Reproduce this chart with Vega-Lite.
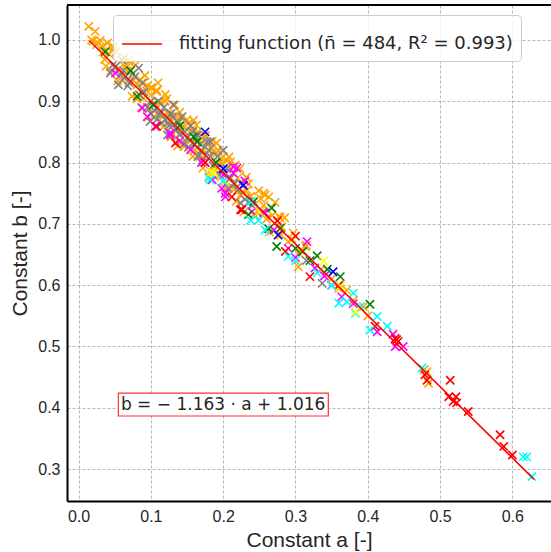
{
  "$schema": "https://vega.github.io/schema/vega-lite/v6.json",
  "width": 484,
  "height": 496,
  "autosize": {"type": "none"},
  "padding": {"left": 67, "top": 5, "right": 0, "bottom": 51},
  "background": "white",
  "view": {"stroke": null},
  "config": {
    "axis": {"grid": true, "gridColor": "#b0b0b0", "gridDash": [3, 2], "gridWidth": 0.9, "ticks": false, "domainColor": "black", "domainWidth": 2, "labelFont": "Liberation Sans", "labelFontSize": 16, "labelColor": "#262626", "titleFont": "Liberation Sans", "titleFontSize": 21, "titleFontWeight": "normal", "titleColor": "#262626", "labelPadding": 7}
  },
  "datasets": {
    "pts": [
      {"a":0.014,"b":1.022,"g":"o"},{"a":0.023,"b":1.014,"g":"o"},{"a":0.025,"b":0.992,"g":"o"},{"a":0.034,"b":0.981,"g":"o"},{"a":0.048,"b":0.989,"g":"o"},
      {"a":0.03,"b":0.999,"g":"o"},{"a":0.036,"b":0.968,"g":"o"},{"a":0.042,"b":0.977,"g":"o"},{"a":0.045,"b":0.95,"g":"o"},{"a":0.052,"b":0.981,"g":"o"},
      {"a":0.056,"b":0.953,"g":"o"},{"a":0.06,"b":0.936,"g":"o"},{"a":0.064,"b":0.957,"g":"o"},{"a":0.069,"b":0.934,"g":"o"},{"a":0.072,"b":0.962,"g":"o"},
      {"a":0.076,"b":0.934,"g":"o"},{"a":0.081,"b":0.904,"g":"o"},{"a":0.085,"b":0.935,"g":"o"},{"a":0.09,"b":0.905,"g":"o"},{"a":0.094,"b":0.917,"g":"o"},
      {"a":0.098,"b":0.888,"g":"o"},{"a":0.102,"b":0.922,"g":"o"},{"a":0.106,"b":0.895,"g":"o"},{"a":0.11,"b":0.878,"g":"o"},{"a":0.115,"b":0.897,"g":"o"},
      {"a":0.118,"b":0.877,"g":"o"},{"a":0.122,"b":0.904,"g":"o"},{"a":0.126,"b":0.875,"g":"o"},{"a":0.13,"b":0.847,"g":"o"},{"a":0.135,"b":0.877,"g":"o"},
      {"a":0.14,"b":0.847,"g":"o"},{"a":0.144,"b":0.859,"g":"o"},{"a":0.148,"b":0.83,"g":"o"},{"a":0.152,"b":0.864,"g":"o"},{"a":0.156,"b":0.837,"g":"o"},
      {"a":0.16,"b":0.82,"g":"o"},{"a":0.165,"b":0.839,"g":"o"},{"a":0.17,"b":0.816,"g":"o"},{"a":0.174,"b":0.844,"g":"o"},{"a":0.178,"b":0.815,"g":"o"},
      {"a":0.182,"b":0.786,"g":"o"},{"a":0.186,"b":0.818,"g":"o"},{"a":0.19,"b":0.789,"g":"o"},{"a":0.195,"b":0.799,"g":"o"},{"a":0.2,"b":0.769,"g":"o"},
      {"a":0.205,"b":0.803,"g":"o"},{"a":0.21,"b":0.774,"g":"o"},{"a":0.215,"b":0.756,"g":"o"},{"a":0.22,"b":0.775,"g":"o"},{"a":0.226,"b":0.751,"g":"o"},
      {"a":0.232,"b":0.776,"g":"o"},{"a":0.238,"b":0.745,"g":"o"},{"a":0.245,"b":0.713,"g":"o"},{"a":0.252,"b":0.741,"g":"o"},{"a":0.26,"b":0.708,"g":"o"},
      {"a":0.268,"b":0.714,"g":"o"},{"a":0.276,"b":0.681,"g":"o"},{"a":0.285,"b":0.71,"g":"o"},{"a":0.295,"b":0.675,"g":"o"},{"a":0.305,"b":0.651,"g":"o"},
      {"a":0.315,"b":0.665,"g":"o"},
      {"a":0.069,"b":0.967,"g":"o"},{"a":0.072,"b":0.951,"g":"o"},{"a":0.081,"b":0.927,"g":"o"},{"a":0.09,"b":0.93,"g":"o"},{"a":0.11,"b":0.93,"g":"o"},
      {"a":0.108,"b":0.916,"g":"o"},{"a":0.159,"b":0.869,"g":"o"},{"a":0.159,"b":0.853,"g":"o"},{"a":0.178,"b":0.829,"g":"o"},{"a":0.191,"b":0.832,"g":"o"},
      {"a":0.191,"b":0.815,"g":"o"},{"a":0.21,"b":0.801,"g":"o"},{"a":0.217,"b":0.796,"g":"o"},{"a":0.224,"b":0.747,"g":"o"},{"a":0.233,"b":0.755,"g":"o"},
      {"a":0.256,"b":0.75,"g":"o"},{"a":0.263,"b":0.744,"g":"o"},{"a":0.277,"b":0.712,"g":"o"},{"a":0.258,"b":0.747,"g":"o"},{"a":0.228,"b":0.75,"g":"o"},
      {"a":0.279,"b":0.71,"g":"o"},{"a":0.297,"b":0.685,"g":"o"},{"a":0.29,"b":0.671,"g":"o"},{"a":0.307,"b":0.657,"g":"o"},{"a":0.304,"b":0.63,"g":"o"},
      {"a":0.314,"b":0.663,"g":"o"},{"a":0.371,"b":0.592,"g":"o"},{"a":0.394,"b":0.565,"g":"o"},{"a":0.482,"b":0.459,"g":"o"},{"a":0.484,"b":0.44,"g":"o"},
      {"a":0.281,"b":0.695,"g":"o"},{"a":0.124,"b":0.88,"g":"o"},{"a":0.137,"b":0.87,"g":"o"},{"a":0.15,"b":0.855,"g":"o"},{"a":0.165,"b":0.85,"g":"o"},
      {"a":0.185,"b":0.835,"g":"o"},{"a":0.2,"b":0.81,"g":"o"},{"a":0.14,"b":0.882,"g":"o"},{"a":0.12,"b":0.9,"g":"o"},{"a":0.1,"b":0.91,"g":"o"},
      {"a":0.095,"b":0.925,"g":"o"},{"a":0.063,"b":0.97,"g":"o"},{"a":0.04,"b":0.995,"g":"o"},{"a":0.033,"b":0.99,"g":"o"},{"a":0.018,"b":1.0,"g":"o"},
      {"a":0.21,"b":0.79,"g":"o"},{"a":0.17,"b":0.83,"g":"o"},{"a":0.335,"b":0.625,"g":"o"},{"a":0.35,"b":0.61,"g":"o"},{"a":0.36,"b":0.595,"g":"o"},
      {"a":0.38,"b":0.575,"g":"o"},{"a":0.4,"b":0.55,"g":"o"},{"a":0.478,"b":0.462,"g":"o"},
      {"a":0.02,"b":0.998,"g":"o"},{"a":0.027,"b":0.995,"g":"o"},{"a":0.038,"b":0.957,"g":"o"},{"a":0.047,"b":0.983,"g":"o"},{"a":0.054,"b":0.933,"g":"o"},
      {"a":0.062,"b":0.972,"g":"o"},{"a":0.067,"b":0.95,"g":"o"},{"a":0.074,"b":0.908,"g":"o"},{"a":0.079,"b":0.959,"g":"o"},{"a":0.083,"b":0.911,"g":"o"},
      {"a":0.087,"b":0.89,"g":"o"},{"a":0.092,"b":0.942,"g":"o"},{"a":0.096,"b":0.874,"g":"o"},{"a":0.1,"b":0.922,"g":"o"},{"a":0.104,"b":0.875,"g":"o"},
      {"a":0.108,"b":0.918,"g":"o"},{"a":0.112,"b":0.898,"g":"o"},{"a":0.117,"b":0.858,"g":"o"},{"a":0.12,"b":0.911,"g":"o"},{"a":0.124,"b":0.864,"g":"o"},
      {"a":0.128,"b":0.842,"g":"o"},{"a":0.133,"b":0.894,"g":"o"},{"a":0.137,"b":0.827,"g":"o"},{"a":0.142,"b":0.873,"g":"o"},{"a":0.146,"b":0.826,"g":"o"},
      {"a":0.15,"b":0.87,"g":"o"},{"a":0.154,"b":0.849,"g":"o"},{"a":0.158,"b":0.81,"g":"o"},{"a":0.163,"b":0.861,"g":"o"},{"a":0.167,"b":0.814,"g":"o"},
      {"a":0.172,"b":0.791,"g":"o"},{"a":0.176,"b":0.844,"g":"o"},{"a":0.18,"b":0.777,"g":"o"},{"a":0.184,"b":0.824,"g":"o"},{"a":0.188,"b":0.777,"g":"o"},
      {"a":0.193,"b":0.82,"g":"o"},{"a":0.198,"b":0.798,"g":"o"},{"a":0.203,"b":0.758,"g":"o"},{"a":0.208,"b":0.809,"g":"o"},{"a":0.213,"b":0.76,"g":"o"},
      {"a":0.218,"b":0.737,"g":"o"},{"a":0.223,"b":0.79,"g":"o"},{"a":0.229,"b":0.72,"g":"o"},{"a":0.235,"b":0.765,"g":"o"},{"a":0.242,"b":0.715,"g":"o"},
      {"a":0.249,"b":0.754,"g":"o"},{"a":0.256,"b":0.73,"g":"o"},{"a":0.264,"b":0.687,"g":"o"},{"a":0.272,"b":0.735,"g":"o"},{"a":0.28,"b":0.682,"g":"o"},
      {"a":0.044,"b":0.946,"g":"gr"},{"a":0.058,"b":0.943,"g":"gr"},{"a":0.06,"b":0.967,"g":"gr"},{"a":0.083,"b":0.954,"g":"gr"},{"a":0.055,"b":0.927,"g":"gr"},
      {"a":0.099,"b":0.867,"g":"gr"},{"a":0.113,"b":0.88,"g":"gr"},{"a":0.131,"b":0.894,"g":"gr"},{"a":0.143,"b":0.875,"g":"gr"},{"a":0.164,"b":0.845,"g":"gr"},
      {"a":0.182,"b":0.834,"g":"gr"},{"a":0.2,"b":0.82,"g":"gr"},{"a":0.182,"b":0.81,"g":"gr"},{"a":0.224,"b":0.766,"g":"gr"},{"a":0.224,"b":0.734,"g":"gr"},
      {"a":0.337,"b":0.603,"g":"gr"},{"a":0.178,"b":0.834,"g":"gr"},{"a":0.207,"b":0.758,"g":"gr"},{"a":0.07,"b":0.93,"g":"gr"},{"a":0.075,"b":0.945,"g":"gr"},
      {"a":0.09,"b":0.915,"g":"gr"},{"a":0.1,"b":0.9,"g":"gr"},{"a":0.105,"b":0.885,"g":"gr"},{"a":0.12,"b":0.87,"g":"gr"},{"a":0.125,"b":0.86,"g":"gr"},
      {"a":0.135,"b":0.855,"g":"gr"},{"a":0.14,"b":0.845,"g":"gr"},{"a":0.15,"b":0.84,"g":"gr"},{"a":0.155,"b":0.86,"g":"gr"},{"a":0.16,"b":0.83,"g":"gr"},
      {"a":0.17,"b":0.82,"g":"gr"},{"a":0.175,"b":0.8,"g":"gr"},{"a":0.19,"b":0.8,"g":"gr"},{"a":0.195,"b":0.78,"g":"gr"},{"a":0.21,"b":0.775,"g":"gr"},
      {"a":0.215,"b":0.765,"g":"gr"},{"a":0.23,"b":0.74,"g":"gr"},{"a":0.24,"b":0.73,"g":"gr"},{"a":0.05,"b":0.955,"g":"gr"},{"a":0.065,"b":0.94,"g":"gr"},
      {"a":0.115,"b":0.865,"g":"gr"},{"a":0.13,"b":0.875,"g":"gr"},{"a":0.145,"b":0.83,"g":"gr"},{"a":0.085,"b":0.91,"g":"gr"},{"a":0.11,"b":0.9,"g":"gr"},
      {"a":0.165,"b":0.81,"g":"gr"},{"a":0.255,"b":0.72,"g":"gr"},{"a":0.315,"b":0.64,"g":"gr"},
      {"a":0.048,"b":0.96,"g":"gr"},{"a":0.068,"b":0.925,"g":"gr"},{"a":0.078,"b":0.94,"g":"gr"},{"a":0.088,"b":0.93,"g":"gr"},{"a":0.095,"b":0.89,"g":"gr"},
      {"a":0.108,"b":0.87,"g":"gr"},{"a":0.118,"b":0.89,"g":"gr"},{"a":0.123,"b":0.845,"g":"gr"},{"a":0.128,"b":0.88,"g":"gr"},{"a":0.138,"b":0.865,"g":"gr"},
      {"a":0.147,"b":0.85,"g":"gr"},{"a":0.152,"b":0.825,"g":"gr"},{"a":0.158,"b":0.85,"g":"gr"},{"a":0.162,"b":0.84,"g":"gr"},{"a":0.168,"b":0.83,"g":"gr"},
      {"a":0.172,"b":0.805,"g":"gr"},{"a":0.18,"b":0.82,"g":"gr"},{"a":0.186,"b":0.795,"g":"gr"},{"a":0.192,"b":0.81,"g":"gr"},{"a":0.205,"b":0.79,"g":"gr"},
      {"a":0.22,"b":0.755,"g":"gr"},{"a":0.235,"b":0.735,"g":"gr"},{"a":0.062,"b":0.95,"g":"gr"},{"a":0.1,"b":0.88,"g":"gr"},{"a":0.13,"b":0.86,"g":"gr"},
      {"a":0.051,"b":0.946,"g":"m"},{"a":0.088,"b":0.889,"g":"m"},{"a":0.106,"b":0.859,"g":"m"},{"a":0.127,"b":0.845,"g":"m"},{"a":0.155,"b":0.821,"g":"m"},
      {"a":0.203,"b":0.75,"g":"m"},{"a":0.214,"b":0.793,"g":"m"},{"a":0.256,"b":0.718,"g":"m"},{"a":0.127,"b":0.848,"g":"m"},{"a":0.219,"b":0.791,"g":"m"},
      {"a":0.198,"b":0.758,"g":"m"},{"a":0.258,"b":0.718,"g":"m"},{"a":0.214,"b":0.783,"g":"m"},{"a":0.203,"b":0.744,"g":"m"},{"a":0.316,"b":0.671,"g":"m"},
      {"a":0.327,"b":0.628,"g":"m"},{"a":0.364,"b":0.581,"g":"m"},{"a":0.413,"b":0.524,"g":"m"},{"a":0.435,"b":0.52,"g":"m"},{"a":0.449,"b":0.5,"g":"m"},
      {"a":0.438,"b":0.5,"g":"m"},{"a":0.14,"b":0.835,"g":"m"},{"a":0.17,"b":0.8,"g":"m"},{"a":0.185,"b":0.772,"g":"m"},{"a":0.23,"b":0.77,"g":"m"},
      {"a":0.24,"b":0.72,"g":"m"},{"a":0.27,"b":0.69,"g":"m"},{"a":0.29,"b":0.66,"g":"m"},{"a":0.34,"b":0.615,"g":"m"},{"a":0.35,"b":0.6,"g":"m"},
      {"a":0.38,"b":0.57,"g":"m"},{"a":0.2,"b":0.78,"g":"m"},{"a":0.095,"b":0.875,"g":"m"},{"a":0.3,"b":0.645,"g":"m"},
      {"a":0.108,"b":0.859,"g":"r"},{"a":0.134,"b":0.832,"g":"r"},{"a":0.212,"b":0.744,"g":"r"},{"a":0.224,"b":0.723,"g":"r"},{"a":0.226,"b":0.723,"g":"r"},
      {"a":0.286,"b":0.655,"g":"r"},{"a":0.32,"b":0.614,"g":"r"},{"a":0.41,"b":0.533,"g":"r"},{"a":0.44,"b":0.511,"g":"r"},{"a":0.438,"b":0.513,"g":"r"},
      {"a":0.442,"b":0.508,"g":"r"},{"a":0.479,"b":0.454,"g":"r"},{"a":0.482,"b":0.445,"g":"r"},{"a":0.514,"b":0.445,"g":"r"},{"a":0.512,"b":0.418,"g":"r"},
      {"a":0.518,"b":0.41,"g":"r"},{"a":0.522,"b":0.418,"g":"r"},{"a":0.523,"b":0.408,"g":"r"},{"a":0.539,"b":0.394,"g":"r"},{"a":0.583,"b":0.356,"g":"r"},
      {"a":0.588,"b":0.337,"g":"r"},{"a":0.6,"b":0.323,"g":"r"},{"a":0.25,"b":0.72,"g":"r"},{"a":0.3,"b":0.68,"g":"r"},{"a":0.36,"b":0.6,"g":"r"},
      {"a":0.275,"b":0.705,"g":"r"},{"a":0.175,"b":0.8,"g":"r"},
      {"a":0.037,"b":0.981,"g":"gn"},{"a":0.072,"b":0.95,"g":"gn"},{"a":0.081,"b":0.908,"g":"gn"},{"a":0.103,"b":0.894,"g":"gn"},{"a":0.159,"b":0.842,"g":"gn"},
      {"a":0.164,"b":0.834,"g":"gn"},{"a":0.235,"b":0.715,"g":"gn"},{"a":0.242,"b":0.736,"g":"gn"},{"a":0.267,"b":0.726,"g":"gn"},{"a":0.263,"b":0.692,"g":"gn"},
      {"a":0.279,"b":0.693,"g":"gn"},{"a":0.274,"b":0.663,"g":"gn"},{"a":0.3,"b":0.66,"g":"gn"},{"a":0.33,"b":0.648,"g":"gn"},{"a":0.344,"b":0.626,"g":"gn"},
      {"a":0.362,"b":0.614,"g":"gn"},{"a":0.403,"b":0.569,"g":"gn"},{"a":0.14,"b":0.86,"g":"gn"},{"a":0.19,"b":0.8,"g":"gn"},{"a":0.31,"b":0.655,"g":"gn"},
      {"a":0.32,"b":0.64,"g":"gn"},
      {"a":0.18,"b":0.775,"g":"c"},{"a":0.238,"b":0.706,"g":"c"},{"a":0.249,"b":0.706,"g":"c"},{"a":0.258,"b":0.69,"g":"c"},{"a":0.29,"b":0.647,"g":"c"},
      {"a":0.36,"b":0.571,"g":"c"},{"a":0.371,"b":0.573,"g":"c"},{"a":0.38,"b":0.587,"g":"c"},{"a":0.383,"b":0.554,"g":"c"},{"a":0.413,"b":0.549,"g":"c"},
      {"a":0.403,"b":0.527,"g":"c"},{"a":0.427,"b":0.533,"g":"c"},{"a":0.475,"b":0.465,"g":"c"},{"a":0.615,"b":0.32,"g":"c"},{"a":0.62,"b":0.32,"g":"c"},
      {"a":0.627,"b":0.288,"g":"c"},{"a":0.182,"b":0.772,"g":"c"},{"a":0.238,"b":0.736,"g":"c"},{"a":0.3,"b":0.64,"g":"c"},{"a":0.33,"b":0.62,"g":"c"},
      {"a":0.35,"b":0.6,"g":"c"},{"a":0.39,"b":0.565,"g":"c"},{"a":0.2,"b":0.77,"g":"c"},
      {"a":0.175,"b":0.85,"g":"bl"},{"a":0.228,"b":0.763,"g":"bl"},{"a":0.276,"b":0.682,"g":"bl"},{"a":0.352,"b":0.622,"g":"bl"},{"a":0.2,"b":0.79,"g":"bl"},
      {"a":0.184,"b":0.785,"g":"y"},{"a":0.187,"b":0.783,"g":"y"},{"a":0.339,"b":0.639,"g":"y"},{"a":0.362,"b":0.598,"g":"y"},{"a":0.383,"b":0.556,"g":"y"},
      {"a":0.25,"b":0.72,"g":"y"}
    ],
    "fit": [
      {"a": 0.015, "b": 0.9986, "s": "fitting function (n̄ = 484, R² = 0.993)"},
      {"a": 0.63, "b": 0.2833, "s": "fitting function (n̄ = 484, R² = 0.993)"}
    ],
    "note": [
      {"a": 0.2, "b": 0.4046, "t": "b = − 1.163 · a + 1.016"}
    ]
  },
  "layer": [
    {
      "data": {"name": "pts"},
      "mark": {"type": "point", "shape": "M-1,-1L1,1M-1,1L1,-1", "filled": false, "size": 68, "strokeWidth": 1.6, "opacity": 1},
      "encoding": {
        "x": {"field": "a", "type": "quantitative", "scale": {"domain": [-0.016, 0.6534], "nice": false, "zero": false},
              "axis": {"values": [0, 0.1, 0.2, 0.3, 0.4, 0.5, 0.6], "format": ".1f", "title": "Constant a [-]", "titlePadding": 5}},
        "y": {"field": "b", "type": "quantitative", "scale": {"domain": [0.248, 1.057], "nice": false, "zero": false},
              "axis": {"values": [0.3, 0.4, 0.5, 0.6, 0.7, 0.8, 0.9, 1.0], "format": ".1f", "title": "Constant b [-]", "titlePadding": 7}},
        "color": {"field": "g", "type": "nominal", "legend": null,
                  "scale": {"domain": ["o", "gr", "m", "r", "gn", "c", "bl", "y"],
                            "range": ["#FFA500", "#808080", "#FF00FF", "#FF0000", "#008000", "#00FFFF", "#0000FF", "#FFFF00"]}}
      }
    },
    {
      "data": {"name": "fit"},
      "mark": {"type": "line", "strokeWidth": 1.5},
      "encoding": {
        "x": {"field": "a", "type": "quantitative"},
        "y": {"field": "b", "type": "quantitative"},
        "stroke": {"field": "s", "type": "nominal",
                   "scale": {"range": ["#FF0000"]},
                   "legend": {"orient": "none", "legendX": 46, "legendY": 10, "title": null, "symbolType": "stroke", "symbolSize": 1600, "symbolStrokeWidth": 1.5,
                              "labelFont": "DejaVu Sans", "labelFontSize": 18, "labelColor": "#262626", "labelLimit": 500, "labelOffset": 16,
                              "fillColor": "rgba(255,255,255,0.8)", "strokeColor": "#cccccc", "cornerRadius": 4, "padding": 8}}
      }
    },
    {
      "data": {"name": "note"},
      "mark": {"type": "rect", "fill": "white", "stroke": "#FF3030", "strokeWidth": 1.2},
      "encoding": {
        "x": {"datum": 0.055}, "x2": {"datum": 0.3454},
        "y": {"datum": 0.4241}, "y2": {"datum": 0.3866}
      }
    },
    {
      "data": {"name": "note"},
      "mark": {"type": "text", "font": "DejaVu Sans", "fontSize": 17, "color": "#262626", "align": "center", "baseline": "middle"},
      "encoding": {
        "x": {"field": "a", "type": "quantitative"},
        "y": {"field": "b", "type": "quantitative"},
        "text": {"field": "t"}
      }
    },
    {
      "data": {"values": [{}]},
      "mark": {"type": "rule", "color": "black", "strokeWidth": 2},
      "encoding": {"y": {"datum": 1.057}}
    }
  ]
}
